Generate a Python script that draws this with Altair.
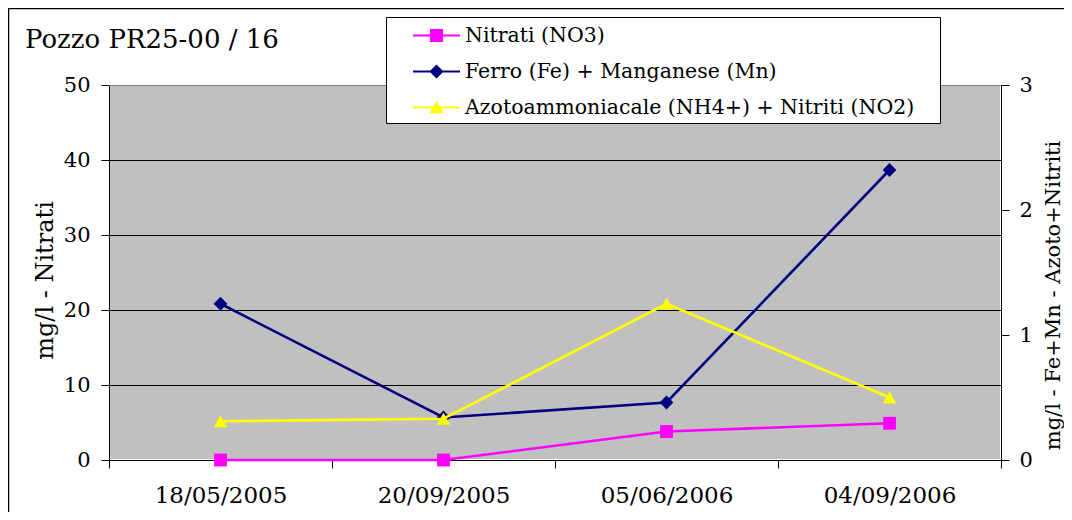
import altair as alt
import pandas as pd

# ---- data ----
DATES = ["18/05/2005", "20/09/2005", "05/06/2006", "04/09/2006"]
NITRATI = [0.0, 0.0, 3.8, 4.9]
FERRO_MN = [1.25, 0.34, 0.46, 2.32]
AZOTO_NITRITI = [0.31, 0.33, 1.25, 0.50]
SERIES = [
    "Nitrati (NO3)",
    "Ferro (Fe) + Manganese (Mn)",
    "Azotoammoniacale (NH4+) + Nitriti (NO2)",
]
COLORS = ["#FF00FF", "#000080", "#FFFF00"]
LEFT_TICKS = [0, 10, 20, 30, 40, 50]
GRID_VALUES = [10, 20, 30, 40, 50]
RIGHT_TICKS = [0, 1, 2, 3]
TITLE = "Pozzo PR25-00 / 16"
LEFT_TITLE = "mg/l - Nitrati"
RIGHT_TITLE = "mg/l - Fe+Mn - Azoto+Nitriti"

rows = []
for s, vals in zip(SERIES, [NITRATI, FERRO_MN, AZOTO_NITRITI]):
    for d, v in zip(DATES, vals):
        rows.append({"date": d, "series": s, "value": v})
df = pd.DataFrame(rows)
grid_df = pd.DataFrame({"value": GRID_VALUES})

FONT = "DejaVu Serif"
W, H = 892, 375

# legend symbols: line stub + marker (custom paths)
LEG_PATHS = [
    "M-1,-0.045H1V0.045H-1Z M-0.28,-0.28H0.28V0.28H-0.28Z",
    "M-1,-0.045H1V0.045H-1Z M0,-0.3L0.3,0L0,0.3L-0.3,0Z",
    "M-1,-0.045H1V0.045H-1Z M0,-0.28L0.3,0.24L-0.3,0.24Z",
]

x_enc = alt.X(
    "date:N",
    sort=DATES,
    bandPosition=0.5,
    scale=alt.Scale(type="band", paddingInner=0, paddingOuter=0),
    axis=alt.Axis(
        title=None, tickBand="extent", labelAngle=0, labelFontSize=23,
        labelFont=FONT, labelColor="black", labelPadding=16, tickSize=8,
        tickColor="black", domainColor="black", grid=False,
    ),
)

y_left = alt.Y(
    "value:Q",
    scale=alt.Scale(domain=[0, 50], nice=False),
    axis=alt.Axis(
        orient="left", values=LEFT_TICKS, title=LEFT_TITLE, titleFont=FONT,
        titleFontSize=24, titleFontWeight="normal", titleColor="black",
        titleAngle=270, titleX=-64, titleY=195, titleAlign="center",
        titleBaseline="middle", labelFont=FONT, labelFontSize=21,
        labelColor="black", labelPadding=11, tickSize=8, tickColor="black",
        domainColor="black", grid=False,
    ),
)

y_right = alt.Y(
    "value:Q",
    scale=alt.Scale(domain=[0, 3], nice=False),
    axis=alt.Axis(
        orient="right", values=RIGHT_TICKS, title=RIGHT_TITLE, titleFont=FONT,
        titleFontSize=21, titleFontWeight="normal", titleColor="black",
        titleAngle=270, titleX=52, titleY=210, titleAlign="center",
        titleBaseline="middle", labelFont=FONT, labelFontSize=21,
        labelColor="black", labelPadding=10, tickSize=8, tickColor="black",
        domainColor="black", grid=False,
    ),
)

base = alt.Chart(df)


def series_layers(name, color, shape, size, y):
    src = base.transform_filter(alt.datum.series == name)
    line = src.mark_line(color=color, strokeWidth=2.6).encode(x=x_enc, y=y)
    pts = src.mark_point(filled=True, opacity=1, color=color, shape=shape,
                         size=size).encode(x=x_enc, y=y)
    return [line, pts]


# horizontal gridlines on the left scale (top one is the grey plot border)
grid = alt.Chart(grid_df).mark_rule(strokeWidth=1, yOffset=0.5).encode(
    y=y_left,
    color=alt.condition(alt.datum.value == 50, alt.value("#808080"), alt.value("#000000")),
)

left = alt.layer(grid, *series_layers(SERIES[0], COLORS[0], "square", 165, y_left))
right = alt.layer(
    *series_layers(SERIES[1], COLORS[1], "diamond", 190, y_right),
    *series_layers(SERIES[2], COLORS[2], "triangle-up", 190, y_right),
)

leg = alt.Legend(
    title=None, orient="none", legendX=277, legendY=-68, direction="vertical",
    padding=8, symbolSize=2209, symbolOffset=19, labelOffset=5, labelFont=FONT,
    labelFontSize=20.5, labelColor="black", labelLimit=700, rowPadding=15,
    clipHeight=21, symbolStrokeWidth=0, symbolOpacity=1,
)

legend_layer = base.mark_point(filled=True, opacity=0).encode(
    color=alt.Color("series:N", sort=SERIES,
                    scale=alt.Scale(domain=SERIES, range=COLORS), legend=leg),
    shape=alt.Shape("series:N", sort=SERIES,
                    scale=alt.Scale(domain=SERIES, range=LEG_PATHS), legend=leg),
)

one = pd.DataFrame({"t": [TITLE]})

title_layer = alt.Chart(one).mark_text(
    align="left", baseline="alphabetic", font=FONT, fontSize=26, color="black"
).encode(x=alt.value(-84), y=alt.value(-37), text="t:N")

# decorative frames: chart border, plot-area background, legend box
border = alt.Chart(one).mark_rect(
    fill="transparent", stroke="black", strokeWidth=1.5
).encode(x=alt.value(-100.5), x2=alt.value(1100), y=alt.value(-76.5), y2=alt.value(600))

plot_bg = alt.Chart(one).mark_rect(fill="#C0C0C0", strokeWidth=0).encode(
    x=alt.value(1), x2=alt.value(W - 1), y=alt.value(0), y2=alt.value(H - 1)
)

legend_box = alt.Chart(one).mark_rect(
    fill="white", stroke="black", strokeWidth=1
).encode(x=alt.value(277.5), x2=alt.value(831.5), y=alt.value(-67.5), y2=alt.value(38.5))

chart = (
    alt.layer(border, plot_bg, left, right, legend_box, legend_layer, title_layer)
    .resolve_scale(y="independent")
    .properties(
        width=W, height=H,
        autosize=alt.AutoSizeParams(type="none"),
        padding={"left": 101, "top": 77, "right": 63, "bottom": 52},
        background="white",
    )
    .configure_view(strokeWidth=0)
)

chart.save("out.html", embed_options={"renderer": "svg", "actions": False})
